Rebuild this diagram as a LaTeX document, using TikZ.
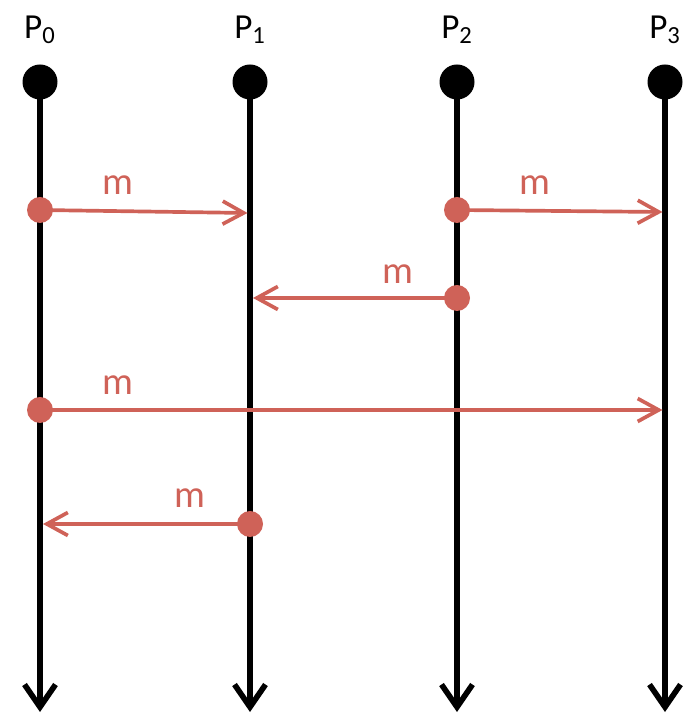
\documentclass[tikz,border=0pt]{standalone}
\usepackage{fontspec}
\setmainfont{Carlito}
\usetikzlibrary{arrows.meta}
\definecolor{msgred}{RGB}{207,98,88}
\tikzset{
  procline/.style={line width=3.2pt, -{Straight Barb[length=0.45cm, width=0.62cm, line width=3.2pt]}},
  procdot/.style={circle, fill=black, inner sep=0pt, minimum size=0.7cm},
  msgline/.style={line width=2.1pt, draw=msgred, -{Straight Barb[length=0.42cm, width=0.46cm, line width=2.1pt]}},
  msgdot/.style={circle, fill=msgred, inner sep=0pt, minimum size=0.52cm},
  msglabel/.style={text=msgred, font=\fontsize{22}{24}\selectfont},
  proclabel/.style={font=\fontsize{20}{22}\selectfont}
}
\begin{document}
\begin{tikzpicture}
    \useasboundingbox (0,0) rectangle (13.74,14.3);

    % Procesy P0..P3
    \foreach \x/\i in {0.8/0, 5.0/1, 9.14/2, 13.3/3} {
        \node[proclabel] (lab\i) at (\x, 13.7) {P\textsubscript{\i}};
        \coordinate (b\i) at (\x, 0.06);
        \node[procdot] (t\i) at (\x, 12.66) {};
        \draw[procline] (t\i.center) -- (b\i);
    }

    % Komunikat P0 -> P1
    \node[msgdot] (s1) at (0.8, 10.1) {};
    \coordinate (e1) at (4.95, 10.04);
    \draw[msgline] (s1.center) -- (e1);
    \node[msglabel] (m1) at (2.36, 10.6) {m};

    % Komunikat P2 -> P3
    \node[msgdot] (s2) at (9.14, 10.1) {};
    \coordinate (e2) at (13.25, 10.06);
    \draw[msgline] (s2.center) -- (e2);
    \node[msglabel] (m2) at (10.7, 10.6) {m};

    % Komunikat P2 -> P1
    \node[msgdot] (s3) at (9.14, 8.34) {};
    \coordinate (e3) at (5.06, 8.34);
    \draw[msgline] (s3.center) -- (e3);
    \node[msglabel] (m3) at (7.96, 8.82) {m};

    % Komunikat P0 -> P3
    \node[msgdot] (s4) at (0.8, 6.1) {};
    \coordinate (e4) at (13.25, 6.1);
    \draw[msgline] (s4.center) -- (e4);
    \node[msglabel] (m4) at (2.36, 6.6) {m};

    % Komunikat P1 -> P0
    \node[msgdot] (s5) at (5.0, 3.82) {};
    \coordinate (e5) at (0.86, 3.82);
    \draw[msgline] (s5.center) -- (e5);
    \node[msglabel] (m5) at (3.8, 4.34) {m};
\end{tikzpicture}
\end{document}
